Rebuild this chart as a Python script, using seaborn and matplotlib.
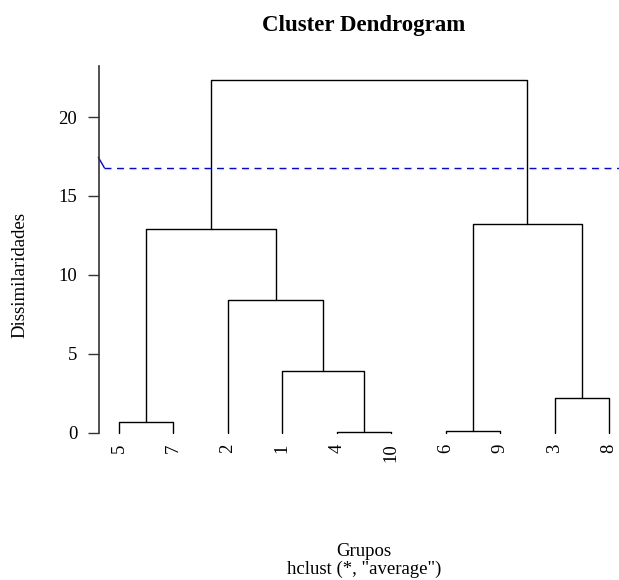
import numpy as np
import pandas as pd
import matplotlib
matplotlib.use("Agg")
import matplotlib.pyplot as plt
import seaborn as sns

# =========================
# DADOS DO DENDROGRAMA
# =========================

# folhas na ordem em que aparecem no eixo x
folhas = ["5", "7", "2", "1", "4", "10", "6", "9", "3", "8"]

# fusões no estilo do hclust: negativo = observação, positivo = passo anterior
fusao_esq = [-4, -6, -5, -3, -1, -2, 3, 2, 7]
fusao_dir = [-10, -9, -7, -8, 1, 5, 6, 4, 8]
alturas = [0.05, 0.12, 0.68, 2.18, 3.91, 8.41, 12.90, 13.20, 22.34]

# altura do corte (linha tracejada)
corte = 16.79

# =========================
# COORDENADAS DOS SEGMENTOS
# =========================

pos_folha = {int(f): i + 1 for i, f in enumerate(folhas)}
pos_no, alt_no = {}, {}


def coord(idx):
    if idx < 0:
        return pos_folha[-idx], 0.0
    return pos_no[idx], alt_no[idx]


linhas = []
for passo, (e, d, h) in enumerate(zip(fusao_esq, fusao_dir, alturas), start=1):
    xe, he = coord(e)
    xd, hd = coord(d)
    pos_no[passo] = (xe + xd) / 2
    alt_no[passo] = h
    for ordem, (x, y) in enumerate([(xe, he), (xe, h), (xd, h), (xd, hd)]):
        linhas.append({"seg": passo, "ordem": ordem, "x": x, "y": y})

segs = pd.DataFrame(linhas)

# =========================
# GRÁFICO
# =========================

sns.set_theme(style="ticks")
plt.rcParams["font.family"] = ["Liberation Serif", "DejaVu Serif"]
plt.rcParams["text.color"] = "black"
plt.rcParams["axes.labelcolor"] = "black"

n = len(folhas)
ymax = max(alturas)

fig = plt.figure(figsize=(6.19, 5.8), dpi=100)
ax = fig.add_axes([0.1606, 0.2293, 0.855, 0.657])

sns.lineplot(data=segs, x="x", y="y", units="seg", estimator=None, sort=False,
             color="black", linewidth=1.0, ax=ax, legend=False)

# linha de corte
ax.plot([0.73, n + 0.04 * (n - 1)], [corte, corte], color="blue",
        linestyle=(0, (5, 4)), linewidth=1.0)
ax.plot([0.62, 0.73], [17.45, corte], color="blue", linewidth=1.0, clip_on=False)

ax.set_xlim(1 - 0.04 * (n - 1), n + 0.04 * (n - 1))
ax.set_ylim(-0.04 * ymax, ymax * 1.04)

for lab in folhas:
    ax.annotate(lab, (pos_folha[int(lab)], 0), xytext=(0, -7.5),
                textcoords="offset points", rotation=90, ha="center", va="top",
                fontsize=13.5, color="black")

ax.set_xticks([])
ax.set_yticks([0, 5, 10, 15, 20])
ax.tick_params(axis="y", length=8, width=1, pad=8, labelsize=13.5,
               color="#333333", labelcolor="black")
ax.set_xlabel("")
ax.set_ylabel("")

sns.despine(ax=ax, bottom=True)
ax.spines["left"].set_bounds(0, ymax * 1.04)
ax.spines["left"].set_color("#333333")
ax.spines["left"].set_linewidth(1.2)

fig.text(364 / 619, 1 - 25 / 580, "Cluster Dendrogram", ha="center", va="center",
         fontsize=16.5, fontweight="bold", color="black")
fig.text(20 / 619, 1 - 275 / 580, "Dissimilaridades", ha="center", va="center",
         rotation=90, fontsize=13.5, color="black")
fig.text(364 / 619, 1 - 551 / 580, "Grupos", ha="center", va="center",
         fontsize=13.5, color="black")
fig.text(364 / 619, 1 - 569 / 580, 'hclust (*, "average")', ha="center", va="center",
         fontsize=13.5, color="black")

fig.savefig("out.png", dpi=100)
